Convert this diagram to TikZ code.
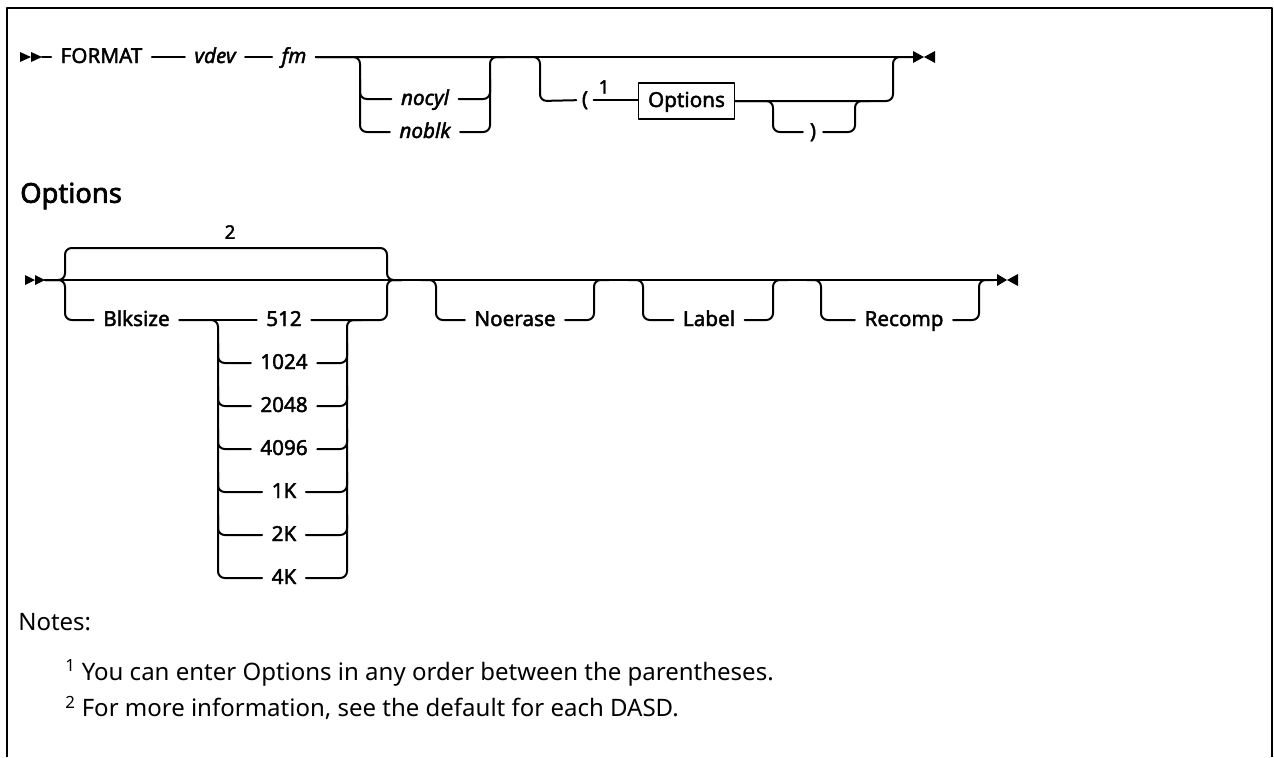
\documentclass[tikz,border=0pt]{standalone}
\usepackage{fontspec}
\setmainfont{Noto Sans}
\newfontfamily\railface[FakeBold=2]{Noto Sans}
\newfontfamily\headface[FakeBold=2.5]{Noto Sans}
\newcommand{\railfont}{\railface\fontsize{15.5}{18}\selectfont}
\newcommand{\smallrail}{\railface\fontsize{14}{16}\selectfont}
\newcommand{\notefont}{\fontsize{18}{21}\selectfont}
\usetikzlibrary{calc}
\begin{document}
\begin{tikzpicture}[x=0.75pt,y=-0.75pt,line cap=round,line join=round,
  rail/.style={line width=1.5pt,rounded corners=5pt},
  kw/.style={inner xsep=7pt,inner ysep=0pt,text height=12pt,text depth=3pt,font=\railfont},
  var/.style={kw,font=\railfont\itshape},
  tip/.style={fill=black},
  note/.style={anchor=west,inner sep=0pt,font=\notefont}]
  \useasboundingbox (0,0) rectangle (1274,757);
  \draw[line width=1.6pt,line cap=butt] (7,757) -- (7,8) -- (1272,8) -- (1272,757);

  % FORMAT command
  \fill[tip] (20,52) -- (31,57) -- (20,62) -- cycle;
  \fill[tip] (31,52) -- (42,57) -- (31,62) -- cycle;
  \coordinate (s1) at (42,57);
  \coordinate (topend) at (913,57);
  \coordinate (g1l) at (360,0);
  \coordinate (g1r) at (490,0);
  \coordinate (g2l) at (540,0);
  \coordinate (g2r) at (893,0);
  \coordinate (g3l) at (773,0);
  \coordinate (g3r) at (855,0);
  \node[kw] (format) at (101.5,57) {FORMAT};
  \node[var] (vdev) at (215,57) {vdev};
  \node[var] (fm) at (294,57) {fm};
  \node[var] (nocyl) at (425,99) {nocyl};
  \node[var] (noblk) at (425,132) {noblk};
  \node[kw,inner xsep=4pt] (lparen) at (585,100) {(};
  \node[inner sep=0pt,font=\smallrail] (fnone) at (604,87) {1};
  \node[kw,draw,line width=1.1pt,minimum height=27pt] (optbox) at (686.5,101) {Options};
  \node[kw,inner xsep=5pt] (rparen) at (813,132) {)};
  \draw[rail] (s1) -- (format);
  \draw[rail] (format) -- (vdev);
  \draw[rail] (vdev) -- (fm);
  \draw[rail] (fm) -- (topend);
  \draw[rail] (fm) -| (g1l |- noblk) -- (noblk);
  \draw[rail] ($(g1l |- nocyl)+(0,-20)$) |- (nocyl);
  \draw[rail] (noblk) -| (g1r |- fm) -- +(15,0);
  \draw[rail] (nocyl) -| ($(g1r |- nocyl)+(0,-20)$);
  \draw[rail] (fm) -| (g2l |- optbox) -- (lparen);
  \draw[rail] (lparen) -- (lparen -| optbox.west);
  \draw[rail] (optbox) -| (g2r |- fm) -- (topend);
  \draw[rail] (optbox) -| (g3l |- rparen) -- (rparen);
  \draw[rail] (rparen) -| (g3r |- optbox) -- +(15,0);
  \fill[tip] (913,51) -- (924,57) -- (913,63) -- cycle;
  \fill[tip] (935,51) -- (924,57) -- (935,63) -- cycle;

  % Options fragment
  \node[anchor=west,inner sep=0pt,font=\headface\fontsize{20.5}{24}\selectfont] (opthead) at (20,196) {Options};
  \fill[tip] (25,275) -- (35,280) -- (25,285) -- cycle;
  \fill[tip] (35,275) -- (45,280) -- (35,285) -- cycle;
  \coordinate (s2) at (45,280);
  \coordinate (optend) at (997,280);
  \coordinate (up) at (0,248);
  \coordinate (o1) at (65,0);
  \coordinate (o2) at (387,0);
  \coordinate (k1) at (218,0);
  \coordinate (k2) at (347,0);
  \node[inner sep=0pt,font=\smallrail] (two) at (230,232) {2};
  \node[kw] (blksize) at (136.5,320) {Blksize};
  \node[kw] (b512) at (284,320) {512};
  \node[kw] (b1024) at (284,363) {1024};
  \node[kw] (b2048) at (284,406) {2048};
  \node[kw] (b4096) at (284,449) {4096};
  \node[kw] (b1K) at (284,492) {1K};
  \node[kw] (b2K) at (284,535) {2K};
  \node[kw] (b4K) at (284,578) {4K};
  \node[kw] (noerase) at (515,320) {Noerase};
  \node[kw] (lbl) at (709,320) {Label};
  \node[kw] (recomp) at (904,320) {Recomp};
  \draw[rail] (s2) -- (optend);
  \draw[rail] (s2) -| (o1 |- up) -| (o2 |- s2) -- +(15,0);
  \draw[rail] (s2) -| (o1 |- blksize) -- (blksize);
  \draw[rail] (blksize) -- (b512);
  \draw[rail] (b512) -| (o2 |- s2) -- +(15,0);
  \draw[rail] (blksize) -| (k1 |- b4K) -- (b4K);
  \draw[rail] (b4K) -| (k2 |- b512) -- +(15,0);
  \foreach \n in {b1024,b2048,b4096,b1K,b2K} {
    \draw[rail] ($(k1 |- \n)+(0,-20)$) |- (\n);
    \draw[rail] (\n) -| ($(k2 |- \n)+(0,-20)$);
  }
  \foreach \n/\l/\r in {noerase/436/594,lbl/643/773,recomp/821/979} {
    \draw[rail] ($(\l,0 |- s2)+(-15,0)$) -| (\l,0 |- \n) -- (\n);
    \draw[rail] (\n) -| (\r,0 |- s2) -- +(15,0);
  }
  \fill[tip] (997,274) -- (1007,280) -- (997,286) -- cycle;
  \fill[tip] (1018,274) -- (1007,280) -- (1018,286) -- cycle;

  % notes
  \node[note] (notes) at (18,622) {Notes:};
  \node[note] (note1) at (65,673) {\textsuperscript{1} You can enter Options in any order between the parentheses.};
  \node[note] (note2) at (65,708) {\textsuperscript{2} For more information, see the default for each DASD.};
\end{tikzpicture}
\end{document}
